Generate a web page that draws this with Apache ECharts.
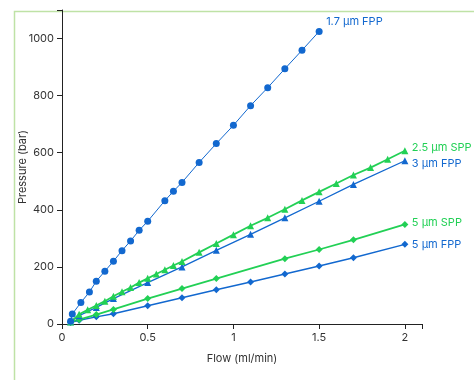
<!DOCTYPE html>
<html><head><meta charset="utf-8">
<script src="https://cdn.jsdelivr.net/npm/echarts@6/dist/echarts.min.js"></script>
<style>html,body{margin:0;padding:0;background:#fff}#c{width:474px;height:380px}</style>
</head><body><div id="c"></div>
<script>
const xTicks = [0, 0.5, 1, 1.5, 2];
const yTicks = [0, 200, 400, 600, 800, 1000];

const fpp17Flow = [0.05,0.06,0.11,0.16,0.2,0.25,0.3,0.35,0.4,0.45,0.5,0.6,0.65,0.7,0.8,0.9,1.0,1.1,1.2,1.3,1.4,1.5];
const fpp17Pres = [10,35,75,112,150,185,220,257,291,328,360,432,465,496,566,632,696,765,828,894,959,1025];

const spp25Flow = [0.05,0.1,0.15,0.2,0.25,0.3,0.35,0.4,0.45,0.5,0.55,0.6,0.65,0.7,0.8,0.9,1.0,1.1,1.2,1.3,1.4,1.5,1.6,1.7,1.8,1.9,2.0];
const spp25Pres = [7,34,50,65,80,97,113,128,145,160,175,190,205,219,251,282,313,344,372,402,433,463,492,522,548,577,607];

const fpp3Flow = [0.05,0.1,0.2,0.3,0.5,0.7,0.9,1.1,1.3,1.5,1.7,2.0];
const fpp3Pres = [8,29,58,89,145,200,258,314,372,430,489,572];

const spp5Flow = [0.05,0.1,0.2,0.3,0.5,0.7,0.9,1.3,1.5,1.7,2.0];
const spp5Pres = [7,15,33,51,89,124,159,229,261,295,349];

const fpp5Flow = [0.05,0.1,0.2,0.3,0.5,0.7,0.9,1.1,1.3,1.5,1.7,2.0];
const fpp5Pres = [5,13,25,36,64,92,120,147,175,203,232,279];

const BLUE = '#1268cf', GREEN = '#22d055';
const FONT = 'Inter, "Noto Sans", sans-serif';

function pts(xs, ys){ return xs.map((x,i)=>[x, ys[i]]); }
function mk(name, xs, ys, color, symbol, size, width, labelOffset){
  return {
    name, type:'line', data: pts(xs, ys), symbol, symbolSize:size,
    lineStyle:{color, width}, itemStyle:{color}, animation:false, z: 3,
    endLabel:{show:true, formatter: name, color, fontSize:11, fontFamily:FONT, distance:7, offset: labelOffset}
  };
}

const chart = echarts.init(document.getElementById('c'), null, {renderer:'canvas'});
chart.setOption({
  animation:false,
  grid:{left:62, right:52, top:10, bottom:56},
  graphic:[{type:'rect', left:12, top:9, shape:{width:520, height:420}, style:{fill:'none', stroke:'#bfe2a6', lineWidth:1.5}, silent:true, z:-1}],
  xAxis:{type:'value', min:0, max:2.1, interval:0.5,
    name:'Flow (ml/min)', nameLocation:'middle', nameGap:29, nameMoveOverlap:false,
    nameTextStyle:{fontSize:11, color:'#333', fontFamily:FONT},
    axisLine:{lineStyle:{color:'#222', width:1}}, axisTick:{show:true, length:5, lineStyle:{color:'#222'}},
    axisLabel:{color:'#333', fontSize:11, fontFamily:FONT, margin:8,
      formatter: v => xTicks.includes(v) ? String(v) : ''},
    splitLine:{show:false}},
  yAxis:{type:'value', min:0, max:1100, interval:200,
    name:'Pressure (bar)', nameLocation:'middle', nameGap:34, nameMoveOverlap:false,
    nameTextStyle:{fontSize:11, color:'#333', fontFamily:FONT},
    axisLine:{show:true, lineStyle:{color:'#222', width:1}}, axisTick:{show:true, length:5, lineStyle:{color:'#222'}},
    axisLabel:{color:'#333', fontSize:11, fontFamily:FONT, margin:8,
      formatter: v => yTicks.includes(v) ? String(v) : ''},
    splitLine:{show:false}},
  series:[
    mk('5 µm FPP', fpp5Flow, fpp5Pres, BLUE, 'diamond', 7, 1.5, [0,0]),
    mk('5 µm SPP', spp5Flow, spp5Pres, GREEN, 'diamond', 7, 1.8, [0,-2]),
    mk('3 µm FPP', fpp3Flow, fpp3Pres, BLUE, 'triangle', 7, 1.3, [0,3]),
    mk('2.5 µm SPP', spp25Flow, spp25Pres, GREEN, 'triangle', 7, 1.8, [0,-3]),
    mk('1.7 µm FPP', fpp17Flow, fpp17Pres, BLUE, 'circle', 7, 1, [0,-10])
  ]
});
</script></body></html>
